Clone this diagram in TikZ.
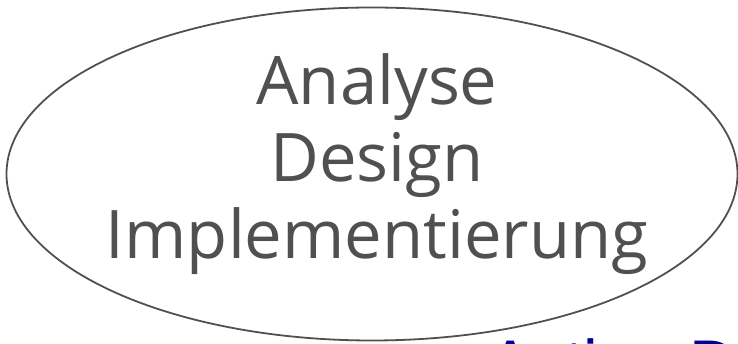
\documentclass[tikz,border=0pt]{standalone}
\usepackage{fontspec}
\setmainfont{Open Sans}
\newfontfamily\titlefont{Liberation Sans}
\usetikzlibrary{shapes.geometric,positioning}
\definecolor{phasegray}{RGB}{80,80,80}
\definecolor{actionblue}{RGB}{0,0,150}

\begin{document}
\begin{tikzpicture}[x=1pt,y=1pt,
    phaseframe/.style={draw=phasegray,line width=1.8pt,ellipse,minimum width=731pt,minimum height=333pt,inner sep=0pt},
    phasetext/.style={text=phasegray,align=center,inner sep=0pt,font={\fontsize{67}{77}\selectfont}},
    actiontext/.style={text=actionblue,inner sep=0pt,anchor=base west,font={\titlefont\fontsize{66}{77}\selectfont}}]
    \useasboundingbox (0,0) rectangle (738,344);
    % phases inside the ellipse
    \node[phaseframe] (phases) at (372,170) {};
    \node[phasetext,anchor=base] (steps) at (377,85) {Analyse\\Design\\Implementierung};
    \node[actiontext] (action) at (488,-43) {Action D};
\end{tikzpicture}
\end{document}
